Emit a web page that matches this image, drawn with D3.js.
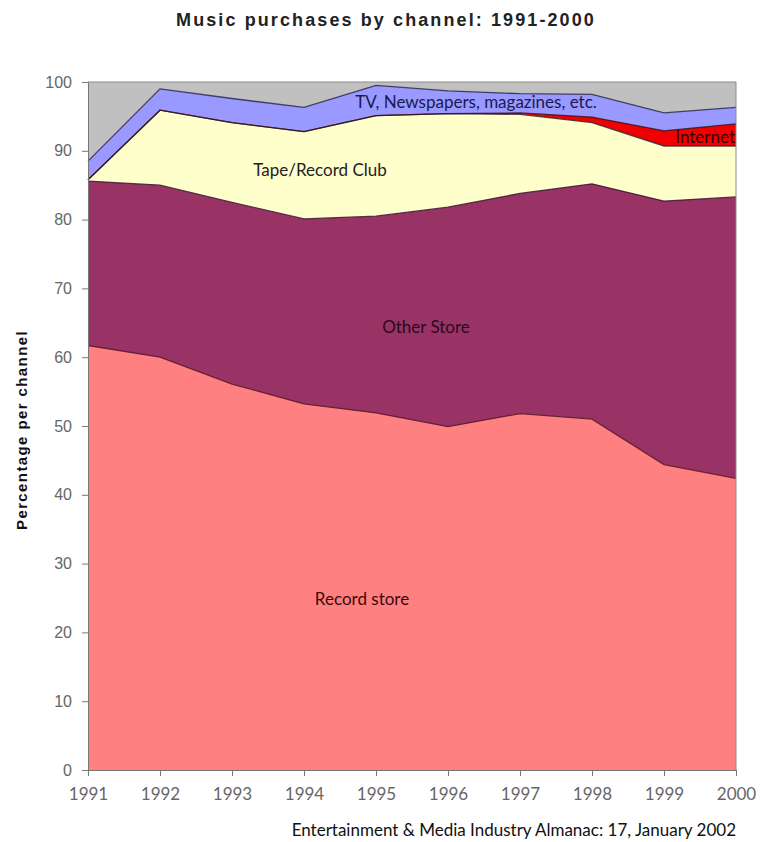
<!DOCTYPE html>
<html>
<head>
<meta charset="utf-8">
<script src="https://cdn.jsdelivr.net/npm/d3@7"></script>
<style>
  html, body { margin: 0; padding: 0; background: #fff; }
  svg { display: block; }
</style>
</head>
<body>
<svg id="chart" width="760" height="842"></svg>
<script>
// ---- data ----
const years = [1991, 1992, 1993, 1994, 1995, 1996, 1997, 1998, 1999, 2000];
const recordStore = [61.7, 60.0, 56.1, 53.2, 51.9, 49.9, 51.8, 51.0, 44.4, 42.4];
const otherStore  = [23.9, 25.0, 26.4, 26.9, 28.6, 31.9, 32.0, 34.2, 38.3, 40.9];
const tapeClub    = [0.2, 10.9, 11.6, 12.7, 14.6, 13.6, 11.5, 8.9, 8.0, 7.4];
const internet    = [0, 0, 0, 0, 0, 0, 0.2, 0.8, 2.2, 3.2];
const tvEtc       = [2.7, 3.1, 3.5, 3.5, 4.4, 3.3, 2.8, 3.3, 2.6, 2.4];
const yTicks = [0, 10, 20, 30, 40, 50, 60, 70, 80, 90, 100];
const seriesKeys = ["record", "other", "tape", "internet", "tv"];
const seriesColors = { record: "#FF8080", other: "#993366", tape: "#FFFFCC", internet: "#F00000", tv: "#9999FF" };
const lineColors = { record: "#5a1525", other: "#3a1030", tape: "#3a2a3a", internet: "#3a1010", tv: "#2a2a50" };

const table = years.map((y, i) => ({
  year: y, record: recordStore[i], other: otherStore[i], tape: tapeClub[i],
  internet: internet[i], tv: tvEtc[i]
}));

// ---- layout ----
const svg = d3.select("#chart");
const m = { left: 88, right: 736, top: 82, bottom: 770 };
const x = d3.scaleLinear().domain([1991, 2000]).range([m.left, m.right]);
const y = d3.scaleLinear().domain([0, 100]).range([m.bottom, m.top]);

// plot background (gray)
svg.append("rect").attr("x", m.left).attr("y", m.top)
  .attr("width", m.right - m.left).attr("height", m.bottom - m.top)
  .attr("fill", "#C0C0C0");

const stacked = d3.stack().keys(seriesKeys)(table);

const area = d3.area().x(d => x(d.data.year)).y0(d => y(d[0])).y1(d => y(d[1]));
const topLine = d3.line().x(d => x(d.data.year)).y(d => y(d[1]));

svg.append("g").selectAll("path").data(stacked).join("path")
  .attr("d", area).attr("fill", d => seriesColors[d.key]).attr("stroke", "none");

svg.append("g").selectAll("path").data(stacked).join("path")
  .attr("d", topLine).attr("fill", "none")
  .attr("stroke", d => lineColors[d.key]).attr("stroke-width", 1.3)
  .attr("stroke-opacity", 0.85);

// plot frame (top/right)
svg.append("path")
  .attr("d", `M${m.left},${m.top}H${m.right}V${m.bottom}`)
  .attr("fill", "none").attr("stroke", "#8a8a8a").attr("stroke-width", 1);

// axes
const yAxis = d3.axisLeft(y).tickValues(yTicks).tickSize(6).tickPadding(10);
const gy = svg.append("g").attr("transform", `translate(${m.left},0)`).call(yAxis);
gy.select(".domain").attr("stroke", "#777");
gy.selectAll(".tick line").attr("stroke", "#777");
gy.selectAll(".tick text").attr("fill", "#666")
  .style("font-family", "'Liberation Sans', Arial, sans-serif").style("font-size", "16px");

const xAxis = d3.axisBottom(x).tickValues(years).tickFormat(d3.format("d")).tickSize(6).tickPadding(12);
const gx = svg.append("g").attr("transform", `translate(0,${m.bottom})`).call(xAxis);
gx.select(".domain").attr("stroke", "#777");
gx.selectAll(".tick line").attr("stroke", "#777");
gx.selectAll(".tick text").attr("fill", "#666")
  .style("font-family", "Lato, 'Open Sans', sans-serif").style("font-size", "17px");

// title
svg.append("text").attr("x", 386).attr("y", 26).attr("text-anchor", "middle")
  .style("font-family", "'Liberation Sans', Arial, sans-serif").style("font-size", "18px")
  .style("font-weight", "bold").style("letter-spacing", "2.1px").attr("fill", "#222")
  .text("Music purchases by channel: 1991-2000");

// y-axis title
svg.append("text").attr("transform", "translate(27,430) rotate(-90)").attr("text-anchor", "middle")
  .style("font-family", "'Liberation Sans', Arial, sans-serif").style("font-size", "15px")
  .style("font-weight", "bold").style("letter-spacing", "1.4px").attr("fill", "#111")
  .text("Percentage per channel");

// series labels
const lbl = (tx, ty, t, fill, anchor) => svg.append("text").attr("x", tx).attr("y", ty)
  .attr("text-anchor", anchor || "middle")
  .style("font-family", "Lato, 'Open Sans', sans-serif").style("font-size", "17px")
  .attr("fill", fill).text(t);
lbl(476, 108, "TV, Newspapers, magazines, etc.", "#1a1a50");
lbl(735, 143, "Internet", "#3a0000", "end");
lbl(320, 176, "Tape/Record Club", "#222");
lbl(426, 333, "Other Store", "#2a0a1a");
lbl(362, 605, "Record store", "#3a0a0a");

// source
svg.append("text").attr("x", 736).attr("y", 836).attr("text-anchor", "end")
  .style("font-family", "Lato, 'Open Sans', sans-serif").style("font-size", "17px")
  .attr("fill", "#111").text("Entertainment & Media Industry Almanac: 17, January 2002");
</script>
</body>
</html>
